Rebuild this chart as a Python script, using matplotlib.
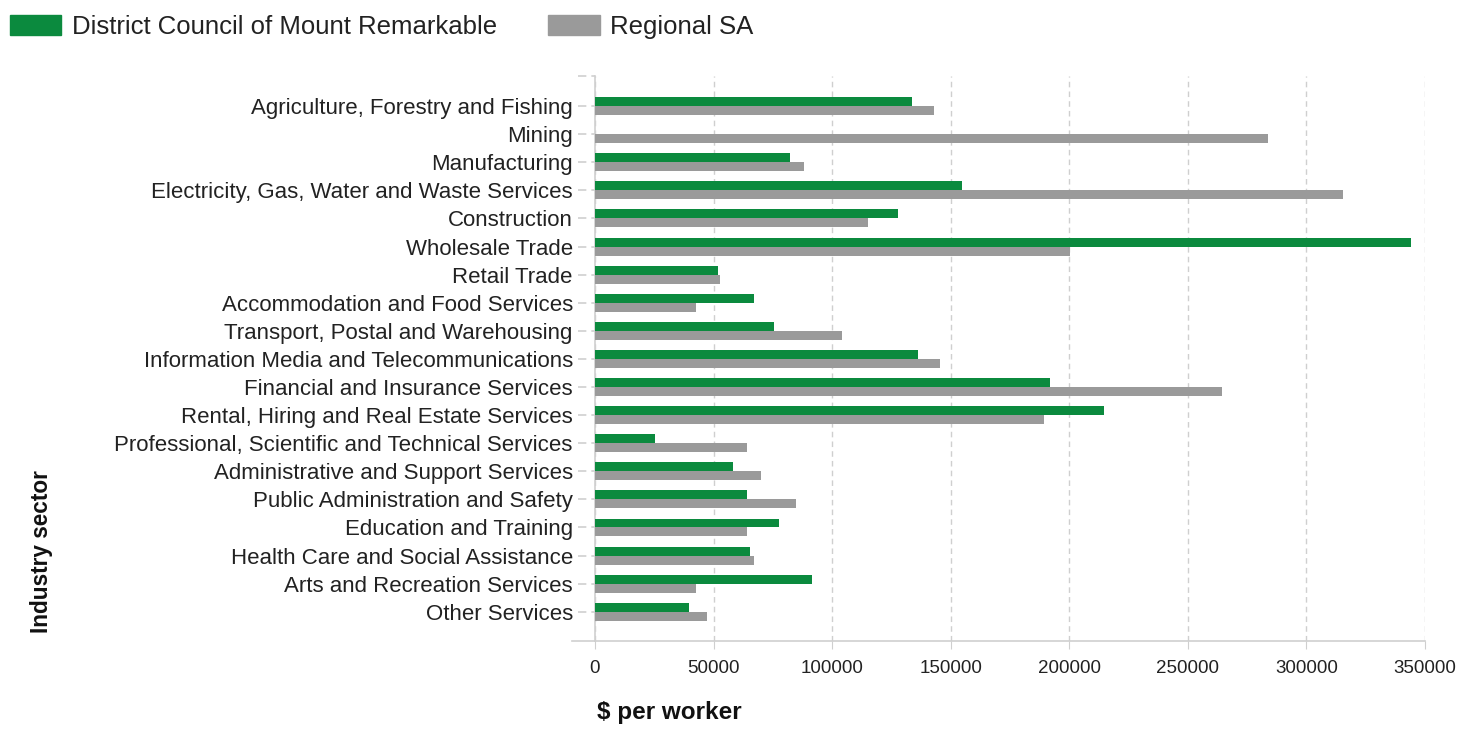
import matplotlib.pyplot as plt
import matplotlib.patches as mpatches
import matplotlib.transforms as mtransforms
import numpy as np

plt.rcParams['font.family'] = ['Liberation Sans', 'DejaVu Sans']

sectors = [
    "Agriculture, Forestry and Fishing",
    "Mining",
    "Manufacturing",
    "Electricity, Gas, Water and Waste Services",
    "Construction",
    "Wholesale Trade",
    "Retail Trade",
    "Accommodation and Food Services",
    "Transport, Postal and Warehousing",
    "Information Media and Telecommunications",
    "Financial and Insurance Services",
    "Rental, Hiring and Real Estate Services",
    "Professional, Scientific and Technical Services",
    "Administrative and Support Services",
    "Public Administration and Safety",
    "Education and Training",
    "Health Care and Social Assistance",
    "Arts and Recreation Services",
    "Other Services",
]
mount_remarkable = [133700, 0, 82100, 154700, 127700, 344200, 51700, 66900, 75300,
                    136100, 191900, 214700, 25500, 58400, 64300, 77800, 65200, 91300, 39800]
regional_sa = [143000, 284000, 88000, 315300, 115000, 200200, 52500, 42400, 104000,
               145400, 264600, 189300, 64200, 70200, 84600, 64200, 66900, 42400, 47400]

green = "#0b8a3e"
grey = "#9a9a9a"
axis_grey = "#cfcfcf"
text_col = "#222222"

fig = plt.figure(figsize=(14.78, 7.29), dpi=100)
ax = fig.add_axes([595 / 1478, 1 - 641 / 729, (1425 - 595) / 1478, (641 - 76) / 729])

y = np.arange(len(sectors))
h = 0.32
ax.barh(y - h / 2, mount_remarkable, height=h, color=green, zorder=3)
ax.barh(y + h / 2, regional_sa, height=h, color=grey, zorder=3)

ax.set_xlim(0, 350000)
ax.set_ylim(19.04, -1.07)
ax.set_xticks(np.arange(0, 350001, 50000))
ax.set_xticklabels([str(v) for v in range(0, 350001, 50000)], fontsize=13.5, color=text_col)
ax.set_yticks(y)
ax.set_yticklabels(sectors, fontsize=16, color=text_col)

ax.grid(axis="x", color=axis_grey, linestyle=(0, (4, 3)), linewidth=1, zorder=0)
for s in ["top", "right"]:
    ax.spines[s].set_visible(False)
ax.spines["left"].set_color(axis_grey)
ax.spines["bottom"].set_color(axis_grey)
ax.spines["left"].set_linewidth(1.2)
ax.spines["bottom"].set_linewidth(1.2)
ax.tick_params(axis="y", length=0, pad=16)
ax.tick_params(axis="x", length=6, color=axis_grey, pad=8)

# dashed y tick marks like the original
blend = mtransforms.blended_transform_factory(ax.transAxes, ax.transData)
for yi in y:
    ax.plot([-0.021, 0], [yi, yi], transform=blend, color=axis_grey, lw=1.2,
            linestyle=(0, (5, 3)), clip_on=False)

# extend bottom axis line to the left, plus a top tick
ax.plot([-0.028, 0], [0, 0], transform=ax.transAxes, color=axis_grey, lw=1.2, clip_on=False)
ax.plot([-0.021, 0], [1, 1], transform=ax.transAxes, color=axis_grey, lw=1.2, clip_on=False,
        linestyle=(0, (5, 3)))

fig.text(597 / 1478, 1 - 712 / 729, "$ per worker", fontsize=17.5, fontweight="bold",
         va="center", ha="left", color="#111111")
fig.text(42 / 1478, 1 - 552 / 729, "Industry sector", fontsize=16.3, fontweight="bold",
         rotation=90, va="center", ha="center", color="#111111")

handles = [mpatches.Patch(color=green, label="District Council of Mount Remarkable"),
           mpatches.Patch(color=grey, label="Regional SA")]
leg = fig.legend(handles=handles, loc="upper left", bbox_to_anchor=(10 / 1478, 1 - 15 / 729),
                 ncol=2, frameon=False, fontsize=18.5, handlelength=2.0, handleheight=0.85,
                 columnspacing=2.0, handletextpad=0.4, borderpad=0, borderaxespad=0)
for t in leg.get_texts():
    t.set_color(text_col)

fig.savefig("out.png", dpi=100)
